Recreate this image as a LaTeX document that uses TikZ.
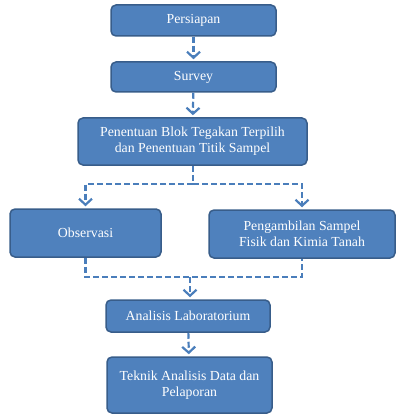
\documentclass[tikz,border=0pt]{standalone}
\usepackage{fontspec}
\setmainfont{Liberation Serif}
\usetikzlibrary{positioning, arrows.meta}
\definecolor{boxblue}{HTML}{4F81BD}
\definecolor{boxedge}{HTML}{385D8A}
\definecolor{linkblue}{HTML}{4A7EBB}

\begin{document}
\begin{tikzpicture}[
            x=1pt, y=-1pt, % pixel-like units, y down
            step_box/.style={rectangle, rounded corners=5pt, draw=boxedge, line width=1.5pt, fill=boxblue,
                    text=white, font=\fontsize{13.8}{16}\selectfont, align=center, inner sep=0pt},
            line_style/.style={dash pattern=on 6pt off 3pt, line width=2.2pt, draw=linkblue},
            link_style/.style={line_style, -{Straight Barb[length=6pt, width=13pt, line width=2.2pt]}, shorten >=2pt}
        ]
        \useasboundingbox (0,0) rectangle (396,414);

        % Main column
        \node[step_box, minimum width=165pt, minimum height=31pt] (prep) at (193.5, 20.5) {Persiapan};
        \node[step_box, minimum width=165pt, minimum height=30pt] (survey) at (193.5, 77) {Survey};
        \node[step_box, minimum width=229pt, minimum height=47pt] (block) at (192.5, 141.5)
            {Penentuan Blok Tegakan Terpilih\\dan Penentuan Titik Sampel};

        % Two branches
        \node[step_box, minimum width=151pt, minimum height=48pt] (obs) at (85.5, 233) {Observasi};
        \node[step_box, minimum width=186pt, minimum height=48pt] (sample) at (302, 234)
            {Pengambilan Sampel\\Fisik dan Kimia Tanah};

        % Lower column
        \node[step_box, minimum width=164pt, minimum height=32pt] (lab) at (188, 316) {Analisis Laboratorium};
        \node[step_box, minimum width=165pt, minimum height=56pt] (report) at (189.5, 385)
            {Teknik Analisis Data dan\\Pelaporan};

        \coordinate (split) at (193, 184);
        \coordinate (merge) at (190, 277);

        % Edges
        \draw[link_style] (prep) -- (survey);
        \draw[link_style] (survey) -- (block);
        \draw[line_style] (block.south -| split) -- (split);
        \draw[link_style] (split) -| (obs.north);
        \draw[link_style] (split) -| (sample.north);
        \draw[line_style] (obs.south) |- (merge) -| (sample.south);
        \draw[link_style] (merge) -- (merge |- lab.north);
        \draw[link_style] (lab) -- (report);

    \end{tikzpicture}
\end{document}
